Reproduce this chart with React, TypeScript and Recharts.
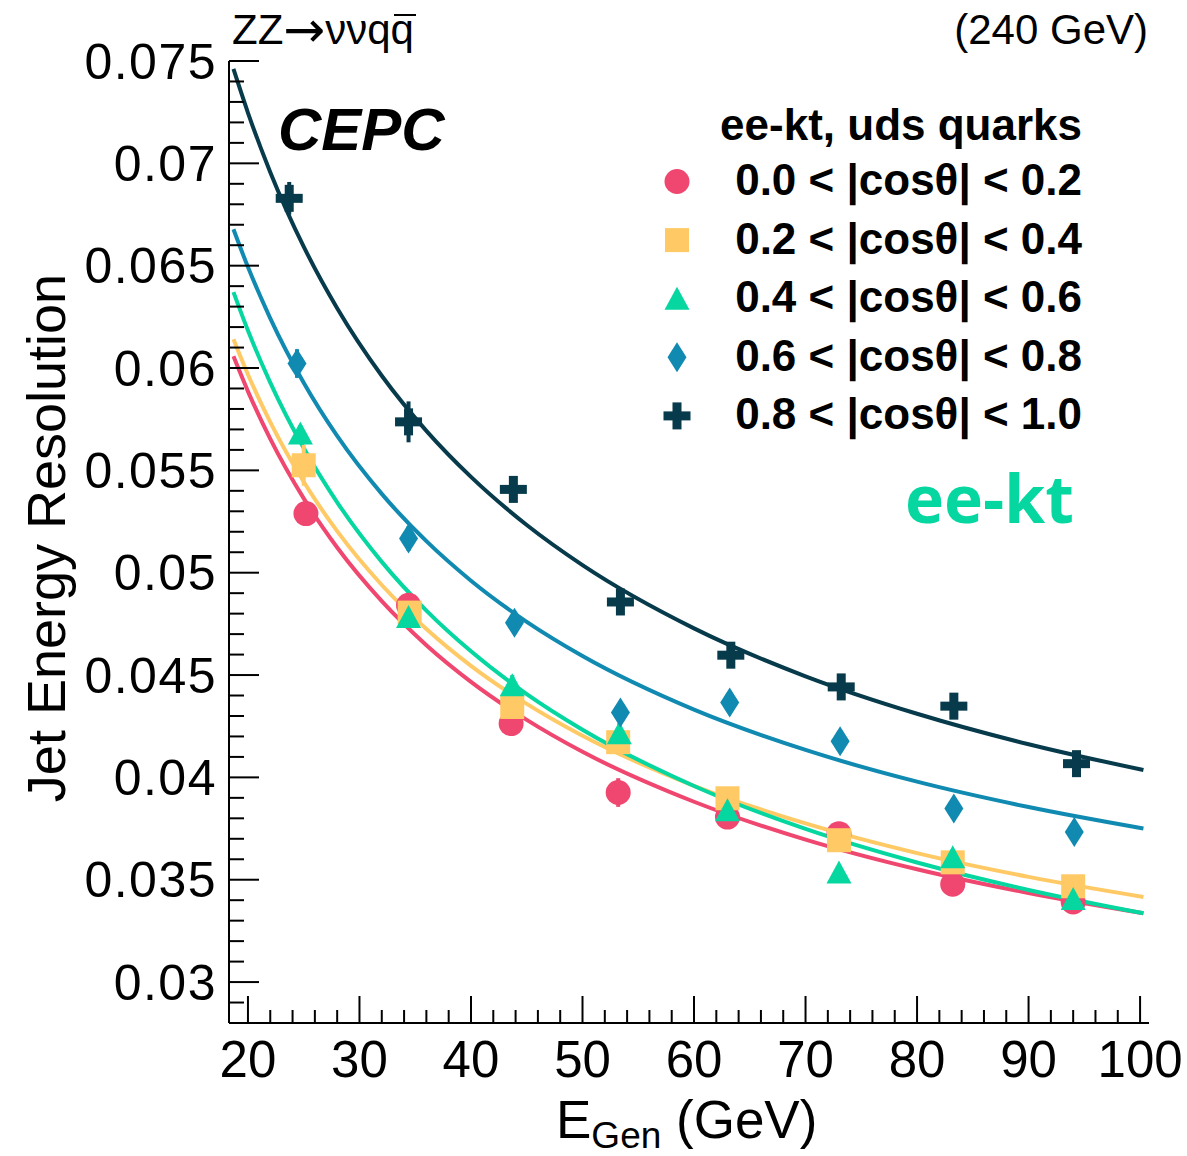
import React from 'react';
import { ComposedChart, Line, Scatter, XAxis, YAxis, ErrorBar } from 'recharts';

const FONT = '"Liberation Sans", Arial, Helvetica, sans-serif';

// generated jet energy (GeV) of each point, per |cos(theta)| slice
const ePink = [25.2, 34.4, 43.6, 53.2, 63.0, 73.0, 83.2, 94.0];
const eYellow = [25.0, 34.5, 43.7, 53.2, 63.0, 73.0, 83.2, 94.0];
const eGreen = [24.7, 34.4, 43.7, 53.3, 63.0, 73.0, 83.2, 94.0];
const eBlue = [24.4, 34.4, 43.9, 53.4, 63.2, 73.1, 83.3, 94.1];
const eDark = [23.7, 34.4, 43.8, 53.4, 63.3, 73.2, 83.3, 94.3];

// resolution values
const resPink = [0.05289, 0.04841, 0.04263, 0.03926, 0.03806, 0.03725, 0.03478, 0.03391];
const resYellow = [0.05525, 0.04805, 0.04344, 0.04172, 0.03898, 0.03693, 0.03585, 0.03468];
const resGreen = [0.0568, 0.04784, 0.0445, 0.04216, 0.03839, 0.03535, 0.0361, 0.03406];
const resBlue = [0.06022, 0.05167, 0.04755, 0.04317, 0.04366, 0.04176, 0.03848, 0.03733];
const resDark = [0.06829, 0.05737, 0.05407, 0.04857, 0.04597, 0.04442, 0.04348, 0.04067];

// stat. errors
const errPink = [0.0006, 0.0006, 0.0005, 0.0007, 0.0005, 0.0005, 0.0005, 0.0005];
const errYellow = [0.001, 0.0006, 0.0005, 0.0005, 0.0004, 0.0004, 0.0004, 0.0004];
const errGreen = [0.0004, 0.0005, 0.0005, 0.0005, 0.0004, 0.0004, 0.0004, 0.0004];
const errBlue = [0.0007, 0.0006, 0.0005, 0.0005, 0.0004, 0.0004, 0.0004, 0.0004];
const errDark = [0.0008, 0.001, 0.0005, 0.0005, 0.0004, 0.0004, 0.0004, 0.0004];

// fitted curves
const fitE = [18.7, 20, 22, 25, 28, 32, 36, 40, 45, 50, 60, 70, 80, 90, 100.3];
const fitPink = [0.06057, 0.05886, 0.05654, 0.05363, 0.05123, 0.04861, 0.04646, 0.04467, 0.04281, 0.04125, 0.03881, 0.03696, 0.03551, 0.03435, 0.03336];
const fitYellow = [0.0614, 0.05968, 0.05736, 0.05444, 0.05203, 0.0494, 0.04725, 0.04545, 0.04359, 0.04203, 0.03959, 0.03775, 0.0363, 0.03514, 0.03416];
const fitGreen = [0.06371, 0.06183, 0.05929, 0.05609, 0.05344, 0.05053, 0.04815, 0.04616, 0.04407, 0.04233, 0.03958, 0.03748, 0.03584, 0.0345, 0.03336];
const fitBlue = [0.06678, 0.06493, 0.06243, 0.05928, 0.05668, 0.05385, 0.05154, 0.04961, 0.0476, 0.04593, 0.04331, 0.04134, 0.03979, 0.03855, 0.0375];
const fitDark = [0.07461, 0.07247, 0.06957, 0.06593, 0.06292, 0.05962, 0.05693, 0.05468, 0.05233, 0.05037, 0.04728, 0.04494, 0.04311, 0.04162, 0.04036];

const legendLabels = [
  '0.0 < |cosθ| < 0.2',
  '0.2 < |cosθ| < 0.4',
  '0.4 < |cosθ| < 0.6',
  '0.6 < |cosθ| < 0.8',
  '0.8 < |cosθ| < 1.0',
];

const xMajorTicks = [20, 30, 40, 50, 60, 70, 80, 90, 100];
const yMajorTicks = [0.03, 0.035, 0.04, 0.045, 0.05, 0.055, 0.06, 0.065, 0.07, 0.075];
const yTickLabels = ['0.03', '0.035', '0.04', '0.045', '0.05', '0.055', '0.06', '0.065', '0.07', '0.075'];

const xTicks: number[] = [];
for (let v = 20; v <= 100; v += 2) xTicks.push(v);
const yTicks: number[] = [];
for (let i = 28; i <= 75; i++) yTicks.push(i / 1000);

const X_DOMAIN = [18.3, 100.8];
const Y_DOMAIN = [0.028, 0.075];

type Kind = 'circle' | 'square' | 'triangle' | 'diamond' | 'cross';

const series: { kind: Kind; color: string; e: number[]; v: number[]; err: number[]; fit: number[] }[] = [
  { kind: 'circle', color: '#EF476F', e: ePink, v: resPink, err: errPink, fit: fitPink },
  { kind: 'square', color: '#FFCA66', e: eYellow, v: resYellow, err: errYellow, fit: fitYellow },
  { kind: 'triangle', color: '#06D6A0', e: eGreen, v: resGreen, err: errGreen, fit: fitGreen },
  { kind: 'diamond', color: '#118AB2', e: eBlue, v: resBlue, err: errBlue, fit: fitBlue },
  { kind: 'cross', color: '#073B4C', e: eDark, v: resDark, err: errDark, fit: fitDark },
];

const Marker = ({ kind, cx, cy, color }: { kind: Kind; cx: number; cy: number; color: string }) => {
  if (cx == null || cy == null) return null;
  switch (kind) {
    case 'circle':
      return <circle cx={cx} cy={cy} r={12.5} fill={color} />;
    case 'square':
      return <rect x={cx - 12} y={cy - 12} width={24} height={24} fill={color} />;
    case 'triangle':
      return <polygon points={`${cx},${cy - 12} ${cx + 12.5},${cy + 11} ${cx - 12.5},${cy + 11}`} fill={color} />;
    case 'diamond':
      return <polygon points={`${cx},${cy - 15} ${cx + 9.5},${cy} ${cx},${cy + 15} ${cx - 9.5},${cy}`} fill={color} />;
    default:
      return (
        <g fill={color}>
          <rect x={cx - 13.5} y={cy - 4.5} width={27} height={9} />
          <rect x={cx - 4.5} y={cy - 13.5} width={9} height={27} />
        </g>
      );
  }
};

const yLabelFor = (v: number) => {
  const i = yMajorTicks.findIndex((t) => Math.abs(t - v) < 1e-9);
  return i >= 0 ? yTickLabels[i] : null;
};

const BottomTick = (p: any) => {
  const v = p.payload.value;
  const major = xMajorTicks.includes(v);
  return (
    <g>
      <line x1={p.x} x2={p.x} y1={p.y} y2={p.y - (major ? 27 : 13)} stroke="#000" strokeWidth={2} />
      {major && (
        <text x={p.x} y={p.y + 54} textAnchor="middle" fontFamily={FONT} fontSize={51} fill="#000">
          {v}
        </text>
      )}
    </g>
  );
};

const TopTick = (p: any) => {
  const major = xMajorTicks.includes(p.payload.value);
  return <line x1={p.x} x2={p.x} y1={p.y} y2={p.y + (major ? 27 : 13)} stroke="#000" strokeWidth={2} />;
};

const LeftTick = (p: any) => {
  const label = yLabelFor(p.payload.value);
  return (
    <g>
      <line x1={p.x} x2={p.x + (label ? 30 : 15)} y1={p.y} y2={p.y} stroke="#000" strokeWidth={2} />
      {label && (
        <text x={p.x - 12} y={p.y + 17.5} textAnchor="end" fontFamily={FONT} fontSize={50} letterSpacing={1.5} fill="#000">
          {label}
        </text>
      )}
    </g>
  );
};

const RightTick = (p: any) => {
  const major = yLabelFor(p.payload.value) != null;
  return <line x1={p.x} x2={p.x - (major ? 30 : 15)} y1={p.y} y2={p.y} stroke="#000" strokeWidth={2} />;
};

const axisLine = { stroke: '#000', strokeWidth: 2 };

export default function App() {
  return (
    <div style={{ position: 'absolute', left: 0, top: 0, width: 1187, height: 1156, background: '#fff' }}>
      <ComposedChart width={1187} height={1156} margin={{ top: 61, right: 38, bottom: 0, left: 0 }}>
        <XAxis
          type="number"
          dataKey="x"
          domain={X_DOMAIN}
          allowDataOverflow
          ticks={xTicks}
          interval={0}
          height={133}
          tickSize={0}
          tickMargin={0}
          tickLine={false}
          axisLine={axisLine}
          tick={<BottomTick />}
        />
        <XAxis
          xAxisId="top"
          orientation="top"
          type="number"
          domain={X_DOMAIN}
          allowDataOverflow
          ticks={xTicks}
          interval={0}
          height={0}
          tickSize={0}
          tickMargin={0}
          tickLine={false}
          axisLine={axisLine}
          tick={<TopTick />}
        />
        <YAxis
          type="number"
          dataKey="y"
          domain={Y_DOMAIN}
          allowDataOverflow
          ticks={yTicks}
          interval={0}
          width={229}
          tickSize={0}
          tickMargin={0}
          tickLine={false}
          axisLine={axisLine}
          tick={<LeftTick />}
        />
        <YAxis
          yAxisId="right"
          orientation="right"
          type="number"
          domain={Y_DOMAIN}
          allowDataOverflow
          ticks={yTicks}
          interval={0}
          width={0}
          tickSize={0}
          tickMargin={0}
          tickLine={false}
          axisLine={axisLine}
          tick={<RightTick />}
        />
        {series.map((s, i) => (
          <Line
            key={`fit-${i}`}
            data={fitE.map((x, j) => ({ x, y: s.fit[j] }))}
            dataKey="y"
            type="monotone"
            stroke={s.color}
            strokeWidth={4}
            dot={false}
            activeDot={false}
            isAnimationActive={false}
          />
        ))}
        {series.map((s, i) => (
          <Scatter
            key={`pts-${i}`}
            data={s.e.map((x, j) => ({ x, y: s.v[j], err: s.err[j] }))}
            isAnimationActive={false}
            shape={(p: any) => <Marker kind={s.kind} cx={p.cx} cy={p.cy} color={s.color} />}
          >
            <ErrorBar dataKey="err" direction="y" width={0} stroke={s.color} strokeWidth={4} isAnimationActive={false} />
          </Scatter>
        ))}
      </ComposedChart>

      <svg width={1187} height={1156} style={{ position: 'absolute', left: 0, top: 0, pointerEvents: 'none' }}>
        <text x={232} y={44} fontFamily={FONT} fontSize={42} fill="#000">
          ZZ
          <tspan fontFamily='"DejaVu Sans", sans-serif' fontSize={50} dy={3}>→</tspan>
          <tspan dy={-3}>ννqq</tspan>
        </text>
        <line x1={394} x2={416} y1={15} y2={15} stroke="#000" strokeWidth={2} />
        <text x={1148} y={44} textAnchor="end" fontFamily={FONT} fontSize={42} fill="#000">
          (240 GeV)
        </text>
        <text x={278} y={150} fontFamily={FONT} fontSize={60} fontWeight="bold" fontStyle="italic" fill="#000">
          CEPC
        </text>
        <text x={1082} y={140} textAnchor="end" fontFamily={FONT} fontSize={44} fontWeight="bold" fill="#000">
          ee-kt, uds quarks
        </text>
        {series.map((s, i) => (
          <g key={`leg-${i}`}>
            <Marker kind={s.kind} cx={677} cy={181.5 + i * 58.6} color={s.color} />
            <text x={1082} y={195 + i * 58.6} textAnchor="end" fontFamily={FONT} fontSize={44} fontWeight="bold" fill="#000">
              {legendLabels[i]}
            </text>
          </g>
        ))}
        <text x={905} y={523} fontFamily='"Open Sans", sans-serif' fontSize={66} fontWeight="bold" fill="#06D6A0">
          ee-kt
        </text>
        <text x={556} y={1138} fontFamily={FONT} fontSize={53} fill="#000">
          E
          <tspan fontSize={37} dy={10}>Gen</tspan>
          <tspan dy={-10}> (GeV)</tspan>
        </text>
        <text
          transform="translate(65, 538) rotate(-90)"
          textAnchor="middle"
          fontFamily={FONT}
          fontSize={54}
          fill="#000"
        >
          Jet Energy Resolution
        </text>
      </svg>
    </div>
  );
}
